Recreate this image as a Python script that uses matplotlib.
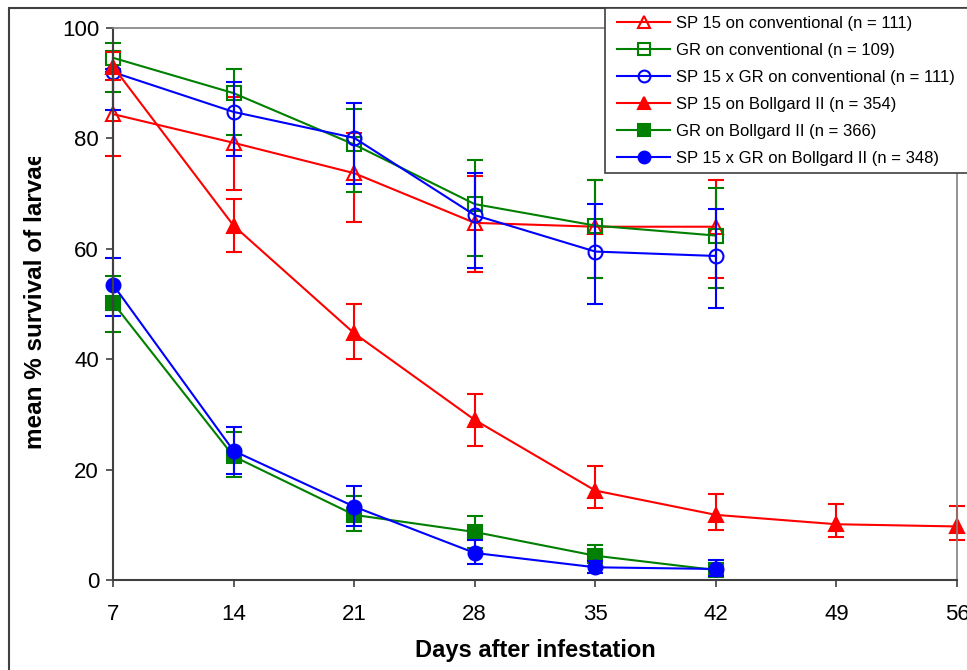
import numpy as np
import matplotlib
matplotlib.use('Agg')
import matplotlib.pyplot as plt
from matplotlib.patches import Rectangle
from matplotlib.transforms import Bbox

plt.rcParams['font.family'] = ['Liberation Sans', 'DejaVu Sans']

days = [7, 14, 21, 28, 35, 42, 49, 56]

# conventional cotton (open markers)
sp15_conv = [84.4, 79.2, 73.7, 64.7, 64.0, 64.0]
sp15_conv_lo = [76.8, 70.6, 64.9, 55.8, 54.7, 54.7]
sp15_conv_hi = [92.0, 87.5, 81.0, 73.2, 72.4, 72.4]

gr_conv = [94.6, 88.2, 78.9, 68.1, 64.2, 62.4]
gr_conv_lo = [88.4, 80.7, 70.3, 58.7, 54.7, 52.9]
gr_conv_hi = [97.2, 92.6, 85.4, 76.0, 72.4, 71.0]

cross_conv = [92.0, 84.8, 80.1, 66.1, 59.5, 58.7]
cross_conv_lo = [85.1, 76.8, 71.7, 56.5, 50.0, 49.3]
cross_conv_hi = [92.5, 90.2, 86.5, 73.8, 68.1, 67.3]

# Bollgard II (filled markers)
sp15_bg = [93.0, 64.2, 44.7, 29.0, 16.2, 11.8, 10.1, 9.7]
sp15_bg_lo = [90.5, 59.4, 40.0, 24.3, 13.1, 9.1, 7.7, 7.3]
sp15_bg_hi = [95.6, 69.0, 50.0, 33.7, 20.7, 15.6, 13.8, 13.4]

gr_bg = [50.2, 22.4, 11.8, 8.7, 4.4, 1.8]
gr_bg_lo = [45.0, 18.6, 8.8, 5.8, 2.5, 0.8]
gr_bg_hi = [55.0, 26.9, 15.2, 11.6, 6.3, 3.0]

cross_bg = [53.5, 23.4, 13.3, 4.9, 2.3, 2.0]
cross_bg_lo = [47.9, 19.2, 9.8, 2.9, 1.3, 0.8]
cross_bg_hi = [58.3, 27.8, 17.1, 7.2, 3.5, 3.7]

labels = ['SP 15 on conventional (n = 111)',
          'GR on conventional (n = 109)',
          'SP 15 x GR on conventional (n = 111)',
          'SP 15 on Bollgard II (n = 354)',
          'GR on Bollgard II (n = 366)',
          'SP 15 x GR on Bollgard II (n = 348)']

red = '#FF0000'
green = '#008000'
blue = '#0000FF'

series = [
    (sp15_conv, sp15_conv_lo, sp15_conv_hi, red, '^', False, 10),
    (gr_conv, gr_conv_lo, gr_conv_hi, green, 's', False, 9.5),
    (cross_conv, cross_conv_lo, cross_conv_hi, blue, 'o', False, 10),
    (sp15_bg, sp15_bg_lo, sp15_bg_hi, red, '^', True, 10),
    (gr_bg, gr_bg_lo, gr_bg_hi, green, 's', True, 9.5),
    (cross_bg, cross_bg_lo, cross_bg_hi, blue, 'o', True, 10),
]

fig = plt.figure(figsize=(9.67, 6.70), dpi=100)
ax = fig.add_axes([113/967, 1-580/670, (957-113)/967, (580-28)/670])

handles = []
for (vals, lo, hi, col, mk, filled, ms), lab in zip(series, labels):
    x = days[:len(vals)]
    v = np.array(vals)
    err = [v - np.array(lo), np.array(hi) - v]
    ax.errorbar(x, v, yerr=err, fmt='none', ecolor=col, elinewidth=1.5,
                capsize=6, capthick=1.5, clip_on=False)
    h, = ax.plot(x, v, color=col, lw=1.5, marker=mk, ms=ms,
                 mfc=col if filled else 'none', mec=col, mew=1.5,
                 label=lab, clip_on=False)
    handles.append(h)

ax.set_xlim(7, 56)
ax.set_ylim(0, 100)
ax.set_xticks(days)
ax.set_yticks(range(0, 101, 20))
ax.tick_params(labelsize=16, length=5, width=1.2, color='#404040', pad=5)
ax.tick_params(axis='x', pad=12)
for s in ['left', 'bottom']:
    ax.spines[s].set_color('#404040')
    ax.spines[s].set_linewidth(1.5)
for s in ['top', 'right']:
    ax.spines[s].set_color('#808080')
    ax.spines[s].set_linewidth(1.2)

ax.set_xlabel('Days after infestation', fontsize=17, fontweight='bold', labelpad=10)

# y label is cut off at the top in the original
yl = fig.text(36/967, 1-449/670, 'mean % survival of larvae', rotation=90,
              ha='center', va='bottom', fontsize=17.5, fontweight='bold')
yl.set_clip_box(Bbox.from_extents(0, 0, 967, 670-157))

# outer chart frame, runs off the right/bottom edge
fig.patches.append(Rectangle((9/967, -0.2), 2, 1.2 - 8/670, transform=fig.transFigure,
                             fill=False, edgecolor='#404040', lw=1.5, zorder=0))

# legend box, also runs off the right edge
fig.patches.append(Rectangle((605/967, 1-173/670), 1, (173-8)/670, transform=fig.transFigure,
                             facecolor='white', edgecolor='#404040', lw=1.2, zorder=3))

leg = fig.legend(handles=handles, loc='upper left', bbox_to_anchor=(617/967, 1-16/670),
                 fontsize=12, frameon=False, markerscale=0.85,
                 handlelength=3.2, handletextpad=0.35, labelspacing=0.72,
                 borderaxespad=0, borderpad=0)
leg.set_zorder(4)

fig.savefig('out.png', dpi=100)
